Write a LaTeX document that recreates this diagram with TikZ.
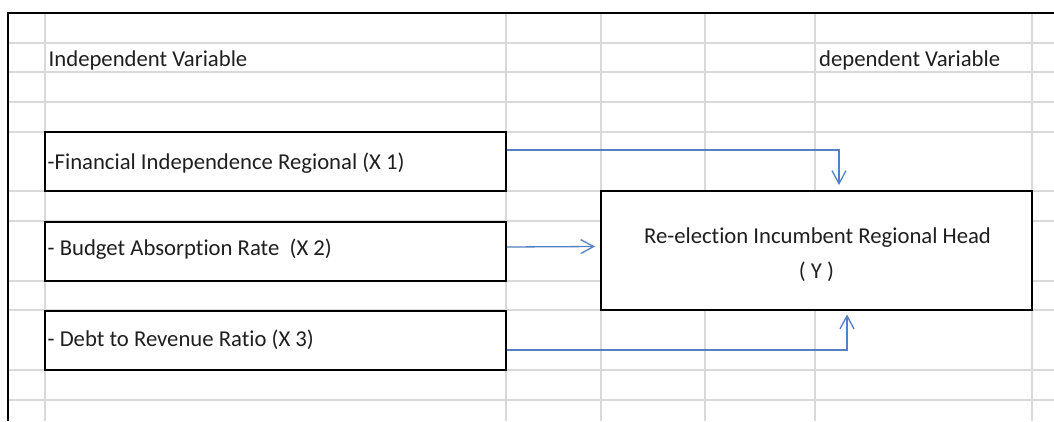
\documentclass[tikz,border=0pt]{standalone}
\usepackage{fontspec}
\setmainfont{Carlito}[Ligatures={NoCommon}]
\usetikzlibrary{arrows.meta}
\definecolor{gridc}{RGB}{217,217,217}
\definecolor{arrc}{RGB}{84,128,196}
\begin{document}
\begin{tikzpicture}[x=1pt,y=-1pt,
  gridline/.style={gridc,line width=1.3pt},
  frameline/.style={black,line width=1.4pt},
  varbox/.style={draw=black,line width=2pt,fill=white,rectangle,inner sep=0pt,minimum width=461pt,minimum height=59pt},
  ybox/.style={draw=black,line width=2pt,fill=white,rectangle,inner sep=0pt,minimum width=431pt,minimum height=119pt},
  txt/.style={inner sep=0pt,font=\fontsize{22.7}{27}\selectfont,text=black!88},
  link/.style={arrc,line width=1.3pt,-{Straight Barb[length=13pt,width=14pt,line width=1.3pt]}}]
\useasboundingbox (0,0) rectangle (1054,421);
\fill[white] (0,0) rectangle (1054,421);
% grid
\foreach \yy in {43,72,102,132,191,221,281,310,370,400}
  \draw[gridline] (8,\yy) -- (1054,\yy);
\foreach \xx in {45,506,601,705,815,1032}
  \draw[gridline] (\xx,13) -- (\xx,421);
% frame
\draw[frameline] (1054,13) -- (8,13) -- (8,421);
% boxes
\node[varbox] (b1) at (275.5,161.5) {};
\node[varbox] (b2) at (275.5,251) {};
\node[varbox] (b3) at (275.5,340) {};
\node[ybox] (y) at (816.5,250.5) {};
% texts
\node[txt,anchor=base west] (h1) at (48.5,66) {Independent Variable};
\node[txt,anchor=base west] (h2) at (819,66) {dependent Variable};
\node[txt,anchor=base west] (t1) at (47.5,169) {-Financial Independence Regional (X~1)};
\node[txt,anchor=base west] (t2) at (47.5,255.7) {- Budget Absorption Rate\ \ (X~2)};
\node[txt,anchor=base west] (t3) at (47.5,346.7) {- Debt to Revenue Ratio (X~3)};
\node[txt,anchor=base] (yt1) at (817.5,243.3) {Re-election Incumbent Regional Head};
\node[txt,anchor=base] (yt2) at (816.5,278.3) {( Y )};
% connectors
\draw[link] ([yshift=11.5pt]b1.east) -| ([xshift=22.5pt,yshift=5pt]y.north);
\draw[link] ([yshift=4pt]b2.east) -- ([xshift=-5pt,yshift=4pt]y.west);
\draw[link] ([yshift=-10pt]b3.east) -| ([xshift=30.5pt,yshift=-3.5pt]y.south);
\end{tikzpicture}
\end{document}
